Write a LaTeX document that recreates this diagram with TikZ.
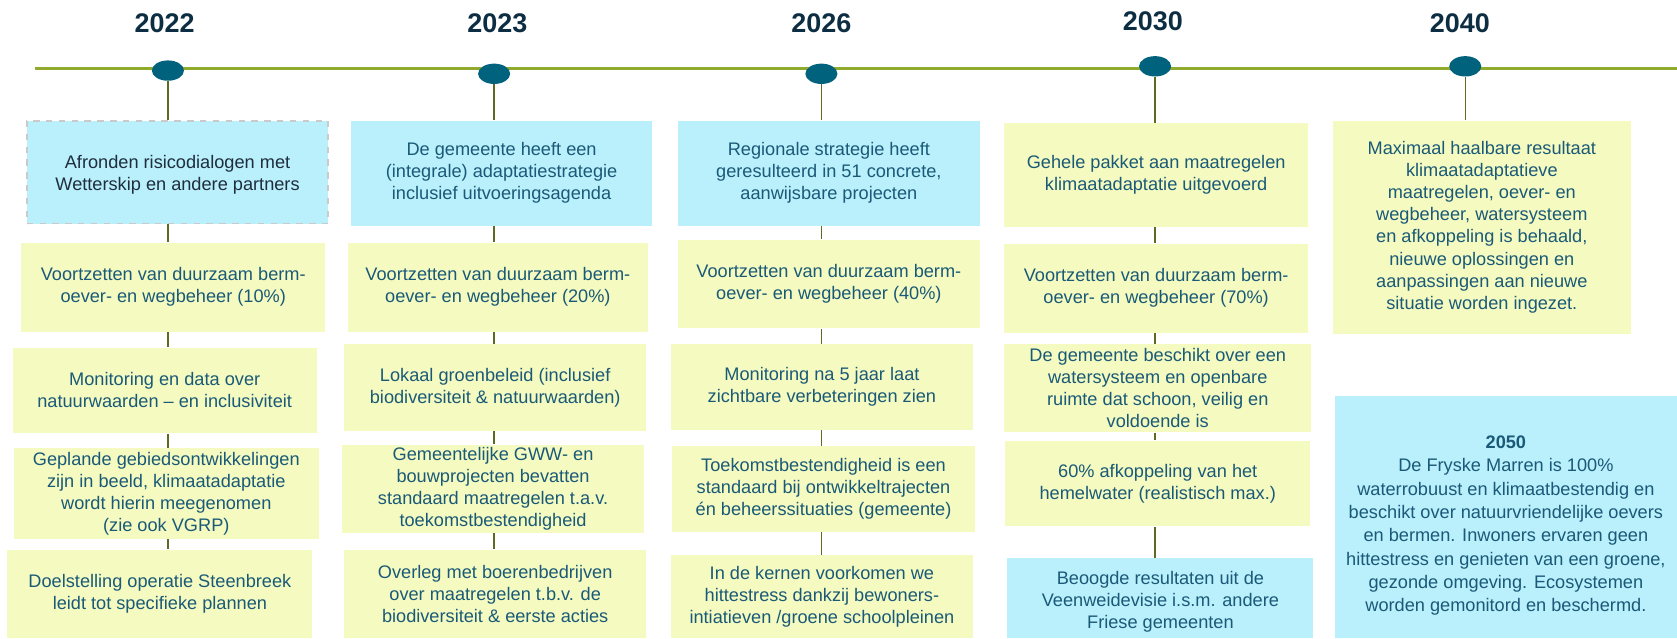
\documentclass[tikz,border=0pt]{standalone}
\usepackage{fontspec}
\setmainfont{Liberation Sans}
\usetikzlibrary{shapes.geometric}

\definecolor{lineGreen}{HTML}{8FAA2C}
\definecolor{stemOlive}{HTML}{5C6A22}
\definecolor{dotTeal}{HTML}{00627C}
\definecolor{boxBlue}{HTML}{BAEFFC}
\definecolor{boxYellow}{HTML}{F5FBC0}
\definecolor{txtTeal}{HTML}{1A5A78}
\definecolor{txtDark}{HTML}{1F2E3C}
\definecolor{yearNavy}{HTML}{0D2E42}
\definecolor{dashGray}{HTML}{CACACA}

\begin{document}
\begin{tikzpicture}[x=0.5pt,y=-0.5pt,
    year/.style={font=\bfseries\fontsize{12.6}{15}\selectfont, text=yearNavy},
    dot/.style={ellipse, fill=dotTeal, minimum width=15pt, minimum height=9.5pt, inner sep=0pt},
    box/.style={align=center, inner sep=0pt, text=txtTeal,
                font=\fontsize{8.5}{10.3}\selectfont},
    yel/.style={box, fill=boxYellow},
    blu/.style={box, fill=boxBlue},
    timeline/.style={draw=lineGreen, line width=1pt},
    stem/.style={draw=stemOlive, line width=0.7pt}]
    \useasboundingbox (0,0) rectangle (1568,597);

    % timeline
    \coordinate (tl) at (33,64);
    \coordinate (tr) at (1568,64);
    \draw[timeline] (tl) -- (tr);

    % years
    \node[year] (y22) at (154,22) {2022};
    \node[year] (y23) at (465,22) {2023};
    \node[year] (y26) at (768,22) {2026};
    \node[year] (y30) at (1078,20) {2030};
    \node[year] (y40) at (1365,22) {2040};

    % 2022
    \node[blu, text=txtDark, draw=dashGray, dashed, line width=0.8pt,
          minimum width=141pt, minimum height=48pt] (a22) at (166,161)
          {\rule{0pt}{9pt}Afronden risicodialogen met\\Wetterskip en andere partners};
    \node[yel, minimum width=142pt, minimum height=41.5pt] (b22) at (162,268.5)
          {Voortzetten van duurzaam berm-\\oever- en wegbeheer (10\%)};
    \node[yel, minimum width=142pt, minimum height=40pt] (c22) at (154,365)
          {Monitoring en data over\\natuurwaarden – en inclusiviteit};
    \node[yel, minimum width=142.5pt, minimum height=42.5pt] (d22b) at (155.5,461.5)
          {Geplande gebiedsontwikkelingen\\zijn in beeld, klimaatadaptatie\\wordt hierin meegenomen\\(zie ook VGRP)};
    \node[yel, minimum width=142.5pt, minimum height=41.5pt] (e22) at (149.5,555.5)
          {Doelstelling operatie Steenbreek\\leidt tot specifieke plannen};

    % 2023
    \node[blu, minimum width=141pt, minimum height=49pt] (a23) at (469,162)
          {De gemeente heeft een\\(integrale) adaptatiestrategie\\inclusief uitvoeringsagenda};
    \node[yel, minimum width=140.5pt, minimum height=41.5pt] (b23) at (465.5,268.5)
          {Voortzetten van duurzaam berm-\\oever- en wegbeheer (20\%)};
    \node[yel, minimum width=141pt, minimum height=40.5pt] (c23) at (463,362.5)
          {Lokaal groenbeleid (inclusief\\biodiversiteit \& natuurwaarden)};
    \node[yel, minimum width=141pt, minimum height=41pt] (d23b) at (461,457)
          {Gemeentelijke GWW- en\\bouwprojecten bevatten\\standaard maatregelen t.a.v.\\toekomstbestendigheid};
    \node[yel, minimum width=141pt, minimum height=41.5pt] (e23) at (463,555.5)
          {Overleg met boerenbedrijven\\over maatregelen t.b.v. de\\biodiversiteit \& eerste acties};

    % 2026
    \node[blu, minimum width=141pt, minimum height=49pt] (a26) at (775,162)
          {Regionale strategie heeft\\geresulteerd in 51 concrete,\\aanwijsbare projecten};
    \node[yel, minimum width=141pt, minimum height=41.5pt] (b26) at (775,265.5)
          {Voortzetten van duurzaam berm-\\oever- en wegbeheer (40\%)};
    \node[yel, minimum width=141.5pt, minimum height=40pt] (c26) at (768.5,362)
          {Monitoring na 5 jaar laat\\zichtbare verbeteringen zien};
    \node[yel, minimum width=142pt, minimum height=40pt] (d26b) at (770,457)
          {Toekomstbestendigheid is een\\standaard bij ontwikkeltrajecten\\én beheerssituaties (gemeente)};
    \node[yel, minimum width=141.5pt, minimum height=39pt] (e26) at (768.5,558)
          {In de kernen voorkomen we\\hittestress dankzij bewoners-\\intiatieven /groene schoolpleinen};

    % 2030
    \node[yel, minimum width=142pt, minimum height=48.5pt] (a30) at (1081,163.5)
          {Gehele pakket aan maatregelen\\klimaatadaptatie uitgevoerd};
    \node[yel, minimum width=142pt, minimum height=41.5pt] (b30) at (1081,269.5)
          {Voortzetten van duurzaam berm-\\oever- en wegbeheer (70\%)};
    \node[yel, minimum width=143.5pt, minimum height=41pt] (c30) at (1082.5,363)
          {De gemeente beschikt over een\\watersysteem en openbare\\ruimte dat schoon, veilig en\\voldoende is};
    \node[yel, minimum width=142.5pt, minimum height=40pt] (d30b) at (1082.5,452)
          {60\% afkoppeling van het\\hemelwater (realistisch max.)};
    \node[blu, minimum width=143pt, minimum height=37.5pt] (e30) at (1085,559.5)
          {\rule{0pt}{9.5pt}Beoogde resultaten uit de\\Veenweidevisie i.s.m. andere\\Friese gemeenten};

    % 2040
    \node[yel, minimum width=139.5pt, minimum height=99.5pt] (a40) at (1385.5,212.5)
          {Maximaal haalbare resultaat\\klimaatadaptatieve\\maatregelen, oever- en\\wegbeheer, watersysteem\\en afkoppeling is behaald,\\nieuwe oplossingen en\\aanpassingen aan nieuwe\\situatie worden ingezet.};

    % 2050
    \node[blu, font=\fontsize{8.5}{10.9}\selectfont,
          minimum width=160pt, minimum height=113.5pt] (f50) at (1408,483.5)
          {\rule{0pt}{14pt}\textbf{2050}\\De Fryske Marren is 100\%\\waterrobuust en klimaatbestendig en\\beschikt over natuurvriendelijke oevers\\en bermen. Inwoners ervaren geen\\hittestress en genieten van een groene,\\gezonde omgeving. Ecosystemen\\worden gemonitord en beschermd.};

    % dots on the timeline
    \node[dot] (d22) at (157,66) {};
    \node[dot] (d23) at (462,69) {};
    \node[dot] (d26) at (768,69) {};
    \node[dot] (d30) at (1080,62) {};
    \node[dot] (d40) at (1370,62) {};

    % stems
    \draw[stem] (d22.south) -- (d22.south |- a22.north)
                (a22.south -| d22) -- (b22.north -| d22)
                (b22.south -| d22) -- (c22.north -| d22)
                (c22.south -| d22) -- (d22b.north -| d22)
                (d22b.south -| d22) -- (e22.north -| d22);
    \draw[stem] (d23.south) -- (d23.south |- a23.north)
                (a23.south -| d23) -- (b23.north -| d23)
                (b23.south -| d23) -- (c23.north -| d23)
                (c23.south -| d23) -- (d23b.north -| d23)
                (d23b.south -| d23) -- (e23.north -| d23);
    \draw[stem] (d26.south) -- (d26.south |- a26.north)
                (a26.south -| d26) -- (b26.north -| d26)
                (b26.south -| d26) -- (c26.north -| d26)
                (c26.south -| d26) -- (d26b.north -| d26)
                (d26b.south -| d26) -- (e26.north -| d26);
    \draw[stem] (d30.south) -- (d30.south |- a30.north)
                (a30.south -| d30) -- (b30.north -| d30)
                (b30.south -| d30) -- (c30.north -| d30)
                (c30.south -| d30) -- (d30b.north -| d30)
                (d30b.south -| d30) -- (e30.north -| d30);
    \draw[stem] (d40.south) -- (d40.south |- a40.north);
\end{tikzpicture}
\end{document}
